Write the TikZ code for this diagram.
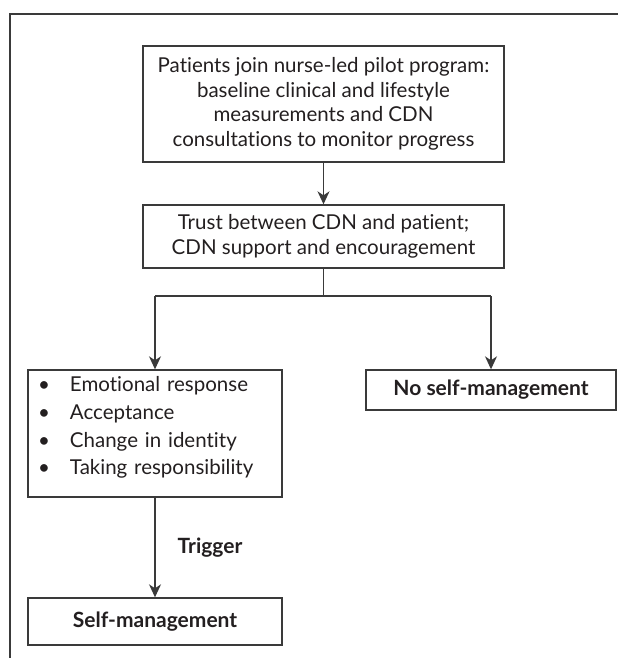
\documentclass[tikz,border=0pt]{standalone}
\usepackage{fontspec}
\setmainfont[Ligatures={NoCommon}]{Lato}
\usetikzlibrary{arrows.meta}
\definecolor{ink}{HTML}{231F20}
\definecolor{edge}{HTML}{3A3A3A}
\begin{document}
\begin{tikzpicture}[x=1pt,y=-1pt,
  lw/.style={draw=edge,line width=1.4pt},
  box/.style={lw,inner sep=0pt,text=ink},
  conn/.style={lw,-{Stealth[length=13pt,width=12pt,inset=4pt]}},
  txt/.style={font=\fontsize{20.5}{24.5}\selectfont},
  btxt/.style={font=\fontsize{21}{24.5}\selectfont\bfseries}]
\useasboundingbox (0,0) rectangle (618,658);
\fill[white] (0,0) rectangle (618,658);
\coordinate (fa) at (10,658);
\coordinate (fb) at (10,14);
\coordinate (fc) at (618,14);
\draw[lw] (fa) -- (fb) -- (fc);

\node[box,txt,minimum width=361,minimum height=116,align=center] (b1) at (323.5,104)
  {Patients join nurse-led pilot program:\\baseline clinical and lifestyle\\measurements and CDN\\consultations to monitor progress};
\node[box,txt,minimum width=361,minimum height=63,align=center] (b2) at (323.5,236.5)
  {Trust between CDN and patient;\\CDN support and encouragement};

\node[box,txt,minimum height=127,text width=234pt,inner xsep=10pt,align=left] (lst) at (155,433.5)
  {\renewcommand\arraystretch{1.14}\raisebox{6pt}[\height][\depth]{\begin{tabular}{@{}p{32pt}@{}l@{}}
   \textbullet & Emotional response\\
   \textbullet & Acceptance\\
   \textbullet & Change in identity\\
   \textbullet & Taking responsibility
  \end{tabular}}};
\node[box,btxt,minimum width=250,minimum height=40] (nsm) at (491,390) {No self-management};
\node[box,btxt,minimum width=254,minimum height=47] (sm) at (155,621.5) {Self-management};
\node[btxt,text=ink] (trig) at (210,548) {Trigger};

\coordinate (split) at (323.5,296);
\coordinate (sl) at (155,296);
\coordinate (sr) at (491,296);

\draw[conn] (b1) -- (b2);
\draw[lw] (b2.south) -- (split);
\draw[lw] (sl) -- (sr);
\draw[conn] (sl) -- (lst);
\draw[conn] (sr) -- (nsm);
\draw[conn] (lst) -- (sm);
\end{tikzpicture}
\end{document}
